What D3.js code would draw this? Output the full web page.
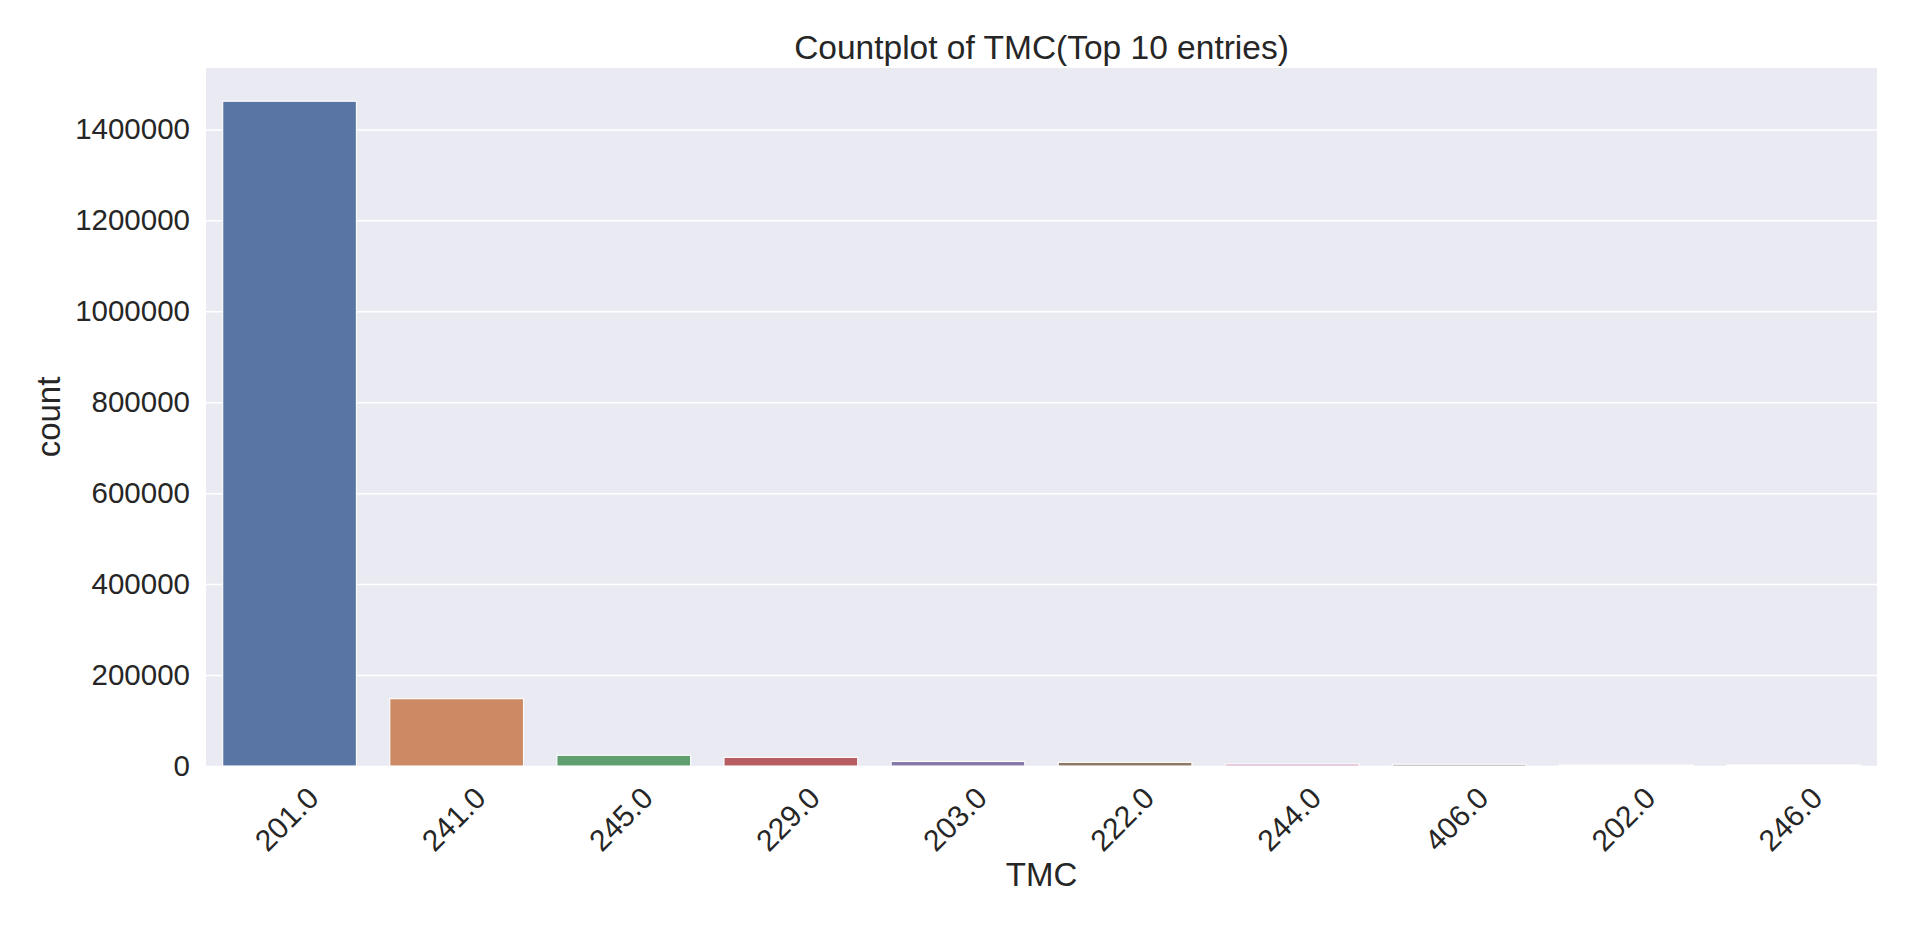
<!DOCTYPE html>
<html>
<head>
<meta charset="utf-8">
<title>Countplot of TMC(Top 10 entries)</title>
<script src="https://cdn.jsdelivr.net/npm/d3@7/dist/d3.min.js"></script>
<style>
  body { margin: 0; background: #fff; }
  svg text { font-family: Arial, "Liberation Sans", Helvetica, sans-serif; fill: #262626; }
</style>
</head>
<body>
<script>
// data
var categories = ["201.0", "241.0", "245.0", "229.0", "203.0", "222.0", "244.0", "406.0", "202.0", "246.0"];
var counts = [1462000, 148000, 23500, 19000, 10000, 8000, 4500, 3800, 2500, 2200];
var yTicks = [0, 200000, 400000, 600000, 800000, 1000000, 1200000, 1400000];
// seaborn "deep" palette
var palette = ["#4c72b0", "#dd8452", "#55a868", "#c44e52", "#8172b3", "#937860", "#da8bc3", "#8c8c8c", "#ccb974", "#64b5cd"];

var width = 1920, height = 927;
var margin = {top: 68, right: 43, bottom: 161, left: 206};

var svg = d3.select("body").append("svg")
  .attr("width", width)
  .attr("height", height);

// countplot desaturates the palette by 0.75
var desat = function(c) {
  var h = d3.hsl(c);
  h.s = h.s * 0.75;
  return h.formatHex();
};

var x = d3.scaleBand()
  .domain(categories)
  .range([margin.left, width - margin.right])
  .paddingInner(0.2)
  .paddingOuter(0.1);

var y = d3.scaleLinear()
  .domain([0, d3.max(counts) * 1.05])
  .range([height - margin.bottom, margin.top]);

// axes background
svg.append("rect")
  .attr("x", margin.left)
  .attr("y", margin.top)
  .attr("width", width - margin.left - margin.right)
  .attr("height", height - margin.top - margin.bottom)
  .attr("fill", "#eaeaf2");

// gridlines
var grid = svg.append("g")
  .attr("transform", "translate(" + margin.left + ",0)")
  .call(d3.axisLeft(y).tickValues(yTicks).tickSize(-(width - margin.left - margin.right)).tickFormat(""));
grid.select(".domain").remove();
grid.selectAll("line").attr("stroke", "#ffffff").attr("stroke-width", 1.5);

// bars
svg.append("g")
  .selectAll("rect")
  .data(counts)
  .enter()
  .append("rect")
  .attr("x", function(d, i) { return x(categories[i]); })
  .attr("y", function(d) { return y(d); })
  .attr("width", x.bandwidth())
  .attr("height", function(d) { return y(0) - y(d); })
  .attr("fill", function(d, i) { return desat(palette[i]); })
  .attr("stroke", "#ffffff")
  .attr("stroke-width", 1.1);

// y axis labels
var yAxis = svg.append("g")
  .attr("transform", "translate(" + margin.left + ",0)")
  .call(d3.axisLeft(y).tickValues(yTicks).tickSize(0).tickPadding(16).tickFormat(d3.format("d")));
yAxis.select(".domain").remove();
yAxis.selectAll("text").attr("font-size", 29.5).attr("fill", "#262626");

// x tick labels, rotated 45
svg.append("g")
  .selectAll("text")
  .data(categories)
  .enter()
  .append("text")
  .attr("transform", function(d) {
    return "translate(" + (x(d) + x.bandwidth() / 2 - 3) + "," + (height - margin.bottom + 53) + ") rotate(-45)";
  })
  .attr("text-anchor", "middle")
  .attr("dominant-baseline", "central")
  .attr("font-size", 30)
  .text(function(d) { return d; });

// axis titles
svg.append("text")
  .attr("x", (margin.left + width - margin.right) / 2)
  .attr("y", 886)
  .attr("text-anchor", "middle")
  .attr("font-size", 33)
  .text("TMC");

svg.append("text")
  .attr("transform", "translate(60," + ((margin.top + height - margin.bottom) / 2) + ") rotate(-90)")
  .attr("text-anchor", "middle")
  .attr("font-size", 33)
  .text("count");

svg.append("text")
  .attr("x", (margin.left + width - margin.right) / 2)
  .attr("y", 59)
  .attr("text-anchor", "middle")
  .attr("font-size", 33.5)
  .text("Countplot of TMC(Top 10 entries)");
</script>
</body>
</html>
